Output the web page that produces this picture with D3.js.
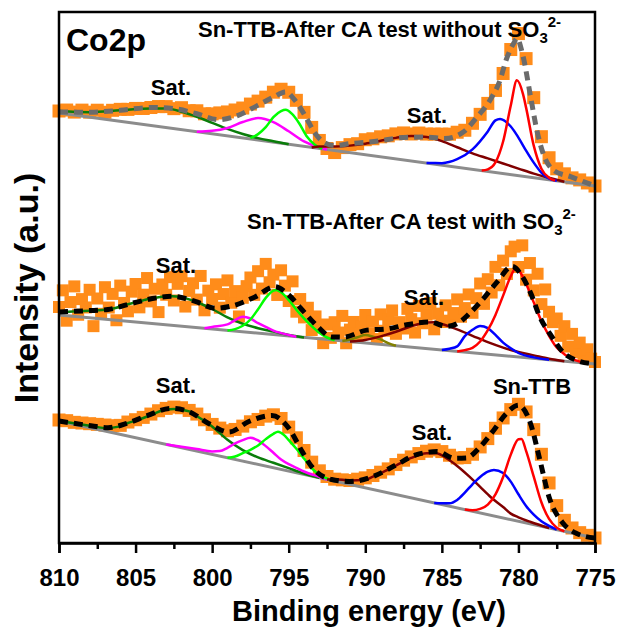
<!DOCTYPE html>
<html lang="en">
    <head>
        <meta charset="utf-8">
        <title>Co2p XPS</title>
        <script type="text/javascript" src="https://cdn.jsdelivr.net/npm/d3@7"></script>
        <style type="text/css">
           body { margin: 0; background: #fff; }
           text {
               font-family: "Liberation Sans", Arial, sans-serif;
               font-weight: bold;
               fill: black;
           }
        </style>
    </head>
    <body>
        <script type="text/javascript">

              var w = 619;
              var h = 630;

              var energyTicks = [810, 805, 800, 795, 790, 785, 780, 775];
              var minorTicks = [807.5, 802.5, 797.5, 792.5, 787.5, 782.5, 777.5];

              // straight background lines, [value at 810 eV, value at 775 eV]
              var topBg = [430, 357];
              var midBg = [228, 179];
              var botBg = [122, 5];

              // measured points, heights above the background, 810 -> 775 eV
              var topData = [2,4,3,6,5,8,7,10,12,13, 15,16,18,20,21,20,22,20,21,19,
                             20,22,24,27,30,35,39,44,50,54, 52,45,34,20,8,1,-2,4,8,10,
                             15,17,20,22,25,27,27,29,29,30, 31,32,35,38,46,56,68,82,100,125,
                             142,118,80,42,22,12,8,5,4,2, 0];
              var midData = [8,25,-5,14,30,2,18,10,28,-8, 20,5,32,12,26,0,35,18,10,30,
                             38,15,28,45,22,35,12,40,30,48, 25,42,50,20,36,44,28,52,18,38,
                             30,45,22,36,50,28,40,15,34,46, 55,38,62,45,70,52,60,40,65,50,
                             35,55,25,38,20,30,8,22,12,-4, 15,2,18,8,25,-2,12,20,5,16,
                             28,10,22,5,30,14,26,35,12,24, 18,38,28,15,42,25,34,46,20,36,
                             28,45,30,38,52,35,44,58,40,55, 70,50,75,62,88,70,95,82,105,110,
                             90,112,78,95,68,85,55,70,48,38, 42,25,35,15,28,10,20,8,14,5,
                             2];
              var botData = [1,2,2,3,4,5,6,7,9,14, 18,22,27,32,36,39,40,39,37,33,
                             30,28,27,30,35,41,45,50,53,51, 44,35,24,14,7,3,2,3,4,7,
                             10,14,19,24,30,36,41,46,50,53, 53,51,50,52,57,66,76,88,100,110,
                             117,111,95,72,45,24,11,5,2,1, 0];

              // fitted envelopes [eV, height]
              var topEnv = [[810,1],[808,5],[806,11],[804,18],[802.5,20],[801,18],[799.6,15],[798.3,22],[797,35],[796,45],
                            [795.2,52],[794.6,45],[793.9,30],[793.3,15],[792.6,6],[792,5],[791,9],[789,16],[787.5,22.5],[786,26],
                            [784.8,27],[783.6,36],[782.7,53],[781.8,73],[781.2,93],[780.8,114],[780.3,132],[780.1,137],[779.7,120],
                            [779.2,80],[778.8,48],[778.4,26],[777.7,10],[776.6,6],[775,0]];
              var midEnv = [[810,3],[808.1,7],[806.8,10],[805.3,18],[803.9,25],[802.6,29],[801.1,26],[799.8,21],[798.5,26],
                            [797.2,36],[795.9,48],[795,41],[794.1,27],[793.1,12],[792.2,3],[791.4,4],[789.9,13],[788.6,16],
                            [787.3,22],[785.8,27],[784.7,24],[783.8,30],[783.2,39],[782.3,55],[781.4,73],[780.4,90],[779.8,82],
                            [779.2,65],[778.6,42],[777.8,23],[777.1,9],[776.2,2],[775,0]];
              var botEnv = [[810,0],[808.1,2],[806.8,4],[805.5,13],[804.2,25],[802.7,37],[801.6,38],[800.2,30],[798.9,26],
                            [797.6,41],[796.1,52],[795,43],[794.1,22],[793.5,9.5],[792.2,1],[791,3],[789.5,13],[788,29.5],
                            [786.7,44],[785.3,52],[784.2,49],[783.4,52],[782.5,66],[781.6,86],[780.8,105],[780,116],[779.2,100],
                            [778.6,66],[778,31],[777.1,8],[776.2,0.5],[775,0]];

              // fitted components [eV, height]
              var topComps = {
                  sat1:  [[810,2],[808,5],[806,11],[804,17],[803,19],[802,18],[801,15],[800,11],[799,7],[798,4],[797,2],[796,1],[795,0]],
                  p1:    [[801,0],[800,3],[799,8],[798,16],[797,22],[796,20],[795,13],[794,5],[793,1],[792.5,0]],
                  p2:    [[797.5,1],[797,6],[796.5,14],[796,25],[795.5,32],[795.2,34],[794.8,31],[794.3,22],[793.8,10],[793.3,3],[792.8,0]],
                  sat2:  [[793.5,0],[793,2],[792,4],[791,7],[790,11],[789,16],[788,21],[787,25],[786,26],[785,24],[784,20],[783,16],[782,13],[781,10],[780,7],[779,4],[778,2],[777,0]],
                  p3:    [[786,0],[785,2],[784,8],[783,20],[782,40],[781.5,52],[781.2,54],[780.5,48],[780,38],[779.5,26],[779,15],[778.5,6],[778,1],[777.5,0]],
                  p4:    [[782.4,0],[782,2],[781.5,10],[781,32],[780.5,69],[780.1,95],[779.7,82],[779.5,69],[779,32],[778.5,10],[778,2],[777.6,0]]
              };
              var midComps = {
                  sat1:  [[810,3],[808,7],[806.8,10],[805.3,18],[804,25],[802.6,29],[801.1,26],[800,20],[799,13],[798,8],[797,5],[796,3],[795,1],[794,0]],
                  p1:    [[800.5,0],[800,2],[799,6],[798.5,11],[798,15],[797.5,14],[797,10],[796.5,7],[796,4],[795,1],[794.5,0]],
                  p2:    [[799,0],[798.5,2],[798,6],[797.5,13],[797,24],[796.5,36],[796,44],[795.8,45],[795.5,43],[795,36],[794.5,27],[794,19],[793.5,12],[793,6],[792.5,2],[792,0]],
                  extra: [[791.5,0],[791,2],[790.5,5],[790,8],[789.5,7],[789,5],[788.5,2],[788,0]],
                  sat2:  [[791,0],[790,3],[789,8],[788,14],[787,21],[786,26],[785.5,27],[785,26],[784,22],[783,17],[782,12],[781,8],[780,5],[779,3],[778,1],[777,0]],
                  p3:    [[785,0],[784.5,2],[784,5],[783.5,16],[783,23],[782.5,27.5],[782,26],[781.5,20],[781,13],[780.5,8],[780,4],[779,1],[778,0]],
                  p4:    [[784,0],[783.5,2],[783,5],[782.5,12],[782,24],[781.5,40],[781,60],[780.5,80],[780.2,88],[780,87],[779.5,74],[779,56],[778.5,38],[778,24],[777.5,13],[777,7],[776.5,3],[776,1],[775.5,0]]
              };
              var botComps = {
                  sat1:  [[810,0],[809,1],[808,2],[807,3],[806,8],[805.5,13],[805,17],[804,26],[803,35],[802.5,37],[802,38],[801.5,38],[801,35],[800,28],[799,18],[798,11],[797,7],[796,5],[795,3],[794,1],[793,0]],
                  p1:    [[803,0],[802,1],[801,2],[800,3],[799.5,5],[799,10],[798.5,16],[798,21],[797.5,25],[797,24],[796.5,20],[796,15],[795.5,10],[795,7],[794.5,5],[794,3],[793,1],[792.5,0]],
                  p2:    [[799,0],[798.5,3],[798,8],[797.5,13],[797,19],[796.5,27],[796,34],[795.7,37],[795.3,35],[795,31],[794.5,24],[794,16],[793.5,8],[793,3],[792.5,1],[792,0]],
                  sat2:  [[792.5,0],[792,2],[791,4],[790,8],[789.5,13],[789,18],[788,29],[787,40],[786,48],[785.4,50],[784.5,46],[784,42],[783.2,34],[782.5,26],[781.8,18],[781,11],[780.5,6],[780,4],[779.2,2],[778,0]],
                  p3:    [[785.5,0],[784.5,3],[784,8],[783.5,17],[783,27],[782.5,36],[782,43],[781.6,46],[781,45],[780.5,38],[780,27],[779.5,17],[779,10],[778.5,5],[778,2],[777.5,0]],
                  p4:    [[783.5,0],[783,1],[782.5,4],[782,10],[781.5,22],[781,41],[780.5,65],[780,82],[779.8,83],[779.5,72],[779,48],[778.5,24],[778,9],[777.5,2],[777,0]]
              };

              var compColor = {
                  sat1: "#0a7d0a", p1: "#ff00ff", p2: "#00ff00", extra: "#808000",
                  sat2: "#800000", p3: "#0000ff", p4: "#ff0000"
              };

              var plotL = 59, plotR = 595, plotT = 12, plotB = 543;

              var x = d3.scaleLinear().domain([810, 775]).range([plotL, plotR]);
              var y = d3.scaleLinear().domain([0, 531]).range([plotB, plotT]);

              var svg = d3.select("body")
                          .append("svg")
                          .attr("width", w)
                          .attr("height", h);

              function drawSpectrum(bgEnds, data, step, size, comps, env, envColor) {
                  var bg = d3.scaleLinear().domain([810, 775]).range(bgEnds);
                  var g = svg.append("g");

                  var energies = data.map(function(d, i) { return 810 - i * step; });
                  g.selectAll("rect.pt")
                   .data(data)
                   .enter()
                   .append("rect")
                   .attr("class", "pt")
                   .attr("x", function(d, i) { return x(energies[i]) - size / 2; })
                   .attr("y", function(d, i) { return y(bg(energies[i]) + d) - size / 2; })
                   .attr("width", size)
                   .attr("height", size)
                   .attr("fill", "#ff8c1a");

                  g.append("line")
                   .attr("x1", x(810)).attr("x2", x(775))
                   .attr("y1", y(bgEnds[0])).attr("y2", y(bgEnds[1]))
                   .attr("stroke", "#8c8c8c")
                   .attr("stroke-width", 3);

                  var line = d3.line()
                               .x(function(d) { return x(d[0]); })
                               .y(function(d) { return y(bg(d[0]) + d[1]); })
                               .curve(d3.curveMonotoneX);

                  Object.keys(comps).forEach(function(k) {
                      g.append("path")
                       .attr("d", line(comps[k]))
                       .attr("fill", "none")
                       .attr("stroke", compColor[k])
                       .attr("stroke-width", 2.5);
                  });

                  g.append("path")
                   .attr("d", line(env))
                   .attr("fill", "none")
                   .attr("stroke", envColor)
                   .attr("stroke-width", 5)
                   .attr("stroke-dasharray", "9,6");
              }

              drawSpectrum(topBg, topData, 0.5, 13, topComps, topEnv, "#6b6b6b");
              drawSpectrum(midBg, midData, 0.25, 12, midComps, midEnv, "#000");
              drawSpectrum(botBg, botData, 0.5, 13, botComps, botEnv, "#000");

              // frame
              svg.append("rect")
                 .attr("x", plotL).attr("y", plotT)
                 .attr("width", plotR - plotL).attr("height", plotB - plotT)
                 .attr("fill", "none")
                 .attr("stroke", "#000")
                 .attr("stroke-width", 2.5);

              var xAxis = svg.append("g")
                             .attr("transform", "translate(0," + plotB + ")")
                             .call(d3.axisBottom(x).tickValues(energyTicks).tickSize(10).tickFormat(d3.format("d")));
              svg.append("g")
                 .attr("transform", "translate(0," + plotB + ")")
                 .call(d3.axisBottom(x).tickValues(minorTicks).tickSize(6).tickFormat(""))
                 .call(function(a) { a.select(".domain").remove(); });
              svg.selectAll(".tick line").attr("stroke-width", 2.5);
              xAxis.select(".domain").attr("stroke-width", 2.5);
              xAxis.selectAll(".tick text")
                   .attr("dy", null)
                   .attr("y", 43)
                   .style("font-size", "24px")
                   .style("font-family", "'Liberation Sans', Arial, sans-serif")
                   .style("font-weight", "bold");

              svg.append("text")
                 .attr("x", 369)
                 .attr("y", 621)
                 .attr("text-anchor", "middle")
                 .style("font-size", "29px")
                 .text("Binding energy (eV)");

              svg.append("text")
                 .attr("transform", "translate(38,288) rotate(-90)")
                 .attr("text-anchor", "middle")
                 .style("font-size", "34px")
                 .text("Intensity (a.u.)");

              svg.append("text")
                 .attr("x", 66).attr("y", 51)
                 .style("font-size", "32px")
                 .text("Co2p");

              function title(xp, yp, label) {
                  var t = svg.append("text").attr("x", xp).attr("y", yp).style("font-size", "22px");
                  t.append("tspan").text(label);
                  t.append("tspan").attr("dy", 6).style("font-size", "15px").text("3");
                  t.append("tspan").attr("dy", -16).style("font-size", "15px").text("2-");
              }
              title(198, 37, "Sn-TTB-After CA test without SO");
              title(247, 229, "Sn-TTB-After CA test with SO");

              var labels = [
                  ["Sat.", 171, 95], ["Sat.", 427, 123],
                  ["Sat.", 176, 273], ["Sat.", 424, 305],
                  ["Sat.", 176, 393], ["Sat.", 432, 440],
                  ["Sn-TTB", 532, 394]
              ];
              svg.selectAll("text.lab")
                 .data(labels)
                 .enter()
                 .append("text")
                 .attr("class", "lab")
                 .attr("x", function(d) { return d[1]; })
                 .attr("y", function(d) { return d[2]; })
                 .attr("text-anchor", "middle")
                 .style("font-size", "22px")
                 .text(function(d) { return d[0]; });

        </script>
    </body>
</html>
